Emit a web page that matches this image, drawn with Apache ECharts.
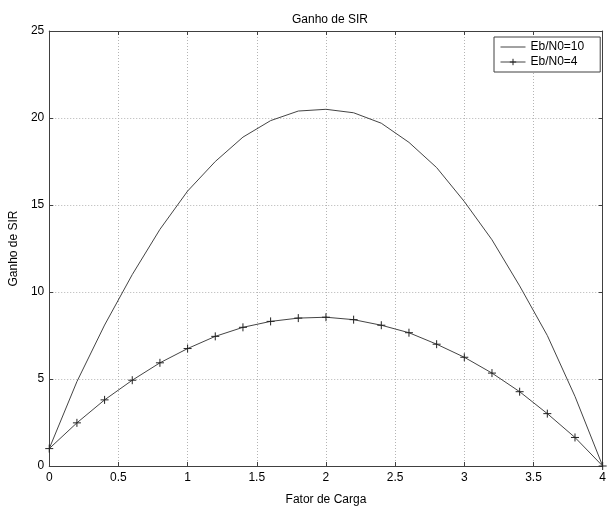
<!DOCTYPE html>
<html>
<head>
<meta charset="utf-8">
<script src="https://cdn.jsdelivr.net/npm/echarts@6/dist/echarts.min.js"></script>
<style>html,body{margin:0;padding:0;background:#fff}#c{width:609px;height:511px}</style>
</head>
<body>
<div id="c"></div>
<script>
var xValues = [0,0.2,0.4,0.6,0.8,1.0,1.2,1.4,1.6,1.8,2.0,2.2,2.4,2.6,2.8,3.0,3.2,3.4,3.6,3.8,4.0];
var sirEb10 = [1,4.85,8.1,11.0,13.6,15.8,17.5,18.9,19.85,20.4,20.5,20.3,19.7,18.6,17.15,15.2,13.0,10.35,7.5,4.0,0];
var sirEb4 = [1,2.48,3.8,4.93,5.93,6.75,7.45,7.97,8.31,8.5,8.55,8.41,8.09,7.66,7.0,6.25,5.34,4.27,3.01,1.64,0];
var seriesNames = ['Eb/N0=10','Eb/N0=4'];
var titleText = 'Ganho de SIR';
var xName = 'Fator de Carga';
var yName = 'Ganho de SIR';

function pairs(xs, ys){ return xs.map(function(x,i){return [x, ys[i]];}); }

var FONT = 'Liberation Sans, Arial, sans-serif';
var AX = '#404040';
var chart = echarts.init(document.getElementById('c'), null, {renderer:'canvas'});
var plus = 'path://M0,-5L0,5M-5,0L5,0';
var gridLine = {show:true, lineStyle:{color:'#b4b4b4', type:[1,2], width:1}};
chart.setOption({
  animation:false,
  backgroundColor:'#fff',
  title:{text:titleText, left:325, top:9, textAlign:'center',
    textStyle:{fontFamily:FONT, fontSize:12, fontWeight:'normal', color:'#000'}},
  legend:{
    show:true, left:494, top:37, orient:'vertical', itemGap:3, itemWidth:25, itemHeight:8,
    padding:[4,16,4,6], borderColor:AX, borderWidth:1, backgroundColor:'#fff',
    textStyle:{fontFamily:FONT, fontSize:12, color:'#000'},
    lineStyle:{width:1, color:'#444'},
    data:[
      {name:seriesNames[0], itemStyle:{opacity:0}},
      {name:seriesNames[1], itemStyle:{color:'none', borderColor:'#222', borderWidth:1}}
    ]
  },
  grid:{left:43, right:2, top:31, bottom:37},
  xAxis:[{
    type:'value', min:0, max:4, interval:0.5,
    name:xName, nameLocation:'middle', nameGap:28,
    nameTextStyle:{fontFamily:FONT, fontSize:12, color:'#000'},
    axisLine:{show:true, onZero:false, lineStyle:{color:AX}},
    axisTick:{show:true, inside:true, length:4, lineStyle:{color:AX}},
    axisLabel:{fontFamily:FONT, fontSize:12, color:'#000', margin:6},
    splitLine:gridLine
  },{
    type:'value', min:0, max:4, interval:0.5, position:'top',
    axisLine:{show:true, onZero:false, lineStyle:{color:AX}},
    axisTick:{show:true, inside:true, length:4, lineStyle:{color:AX}},
    axisLabel:{show:false}, splitLine:{show:false}
  }],
  yAxis:[{
    type:'value', min:0, max:25, interval:5,
    name:yName, nameLocation:'middle', nameGap:28,
    nameTextStyle:{fontFamily:FONT, fontSize:12, color:'#000'},
    axisLine:{show:true, onZero:false, lineStyle:{color:AX}},
    axisTick:{show:true, inside:true, length:4, lineStyle:{color:AX}},
    axisLabel:{fontFamily:FONT, fontSize:12, color:'#000', margin:5},
    splitLine:gridLine
  },{
    type:'value', min:0, max:25, interval:5, position:'right',
    axisLine:{show:true, onZero:false, lineStyle:{color:AX}},
    axisTick:{show:true, inside:true, length:4, lineStyle:{color:AX}},
    axisLabel:{show:false}, splitLine:{show:false}
  }],
  series:[{
    name:seriesNames[0], type:'line', data:pairs(xValues, sirEb10),
    showSymbol:false, symbol:'none', color:'#444',
    lineStyle:{color:'#444', width:1}
  },{
    name:seriesNames[1], type:'line', data:pairs(xValues, sirEb4),
    symbol:plus, symbolSize:8, showSymbol:true, color:'#444',
    lineStyle:{color:'#444', width:1},
    itemStyle:{color:'none', borderColor:'#222', borderWidth:1}
  }]
});
</script>
</body>
</html>
